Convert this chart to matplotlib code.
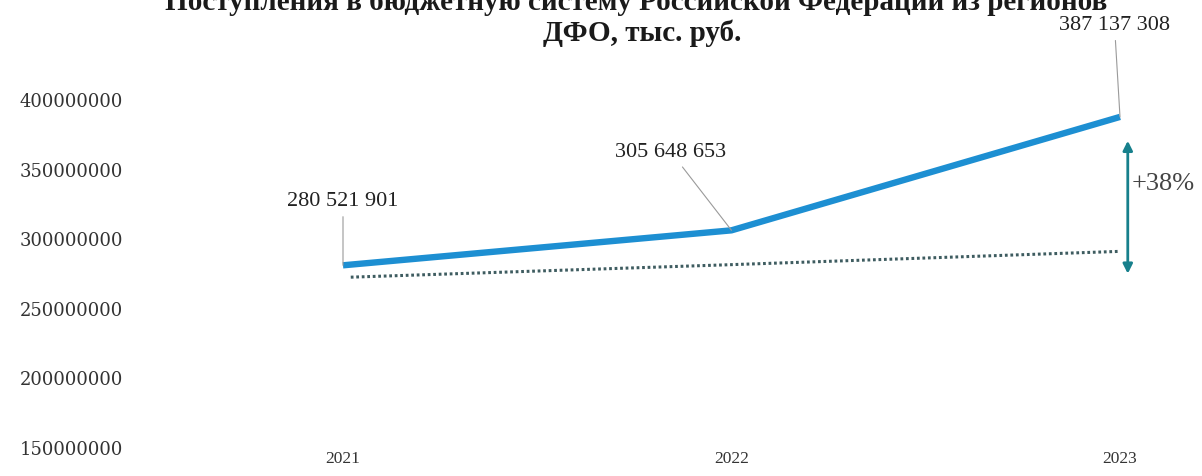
import matplotlib
matplotlib.use("Agg")
import matplotlib.pyplot as plt

years = [2021, 2022, 2023]
receipts = [280521901, 305648653, 387137308]
receipt_labels = ["280 521 901", "305 648 653", "387 137 308"]
baseline = [272000000, 281000000, 290500000]
y_ticks = [150000000, 200000000, 250000000, 300000000, 350000000, 400000000]
growth_label = "+38%"
title_line1 = "Поступления в бюджетную систему Российской Федерации из регионов"
title_line2 = "ДФО, тыс. руб."

W, H = 1202, 477
fig = plt.figure(figsize=(W / 100, H / 100), dpi=100)

# axes placement in pixels
px_left, px_right = 140, 1170
px_top, px_bottom = 100, 448
ax = fig.add_axes([px_left / W, 1 - px_bottom / H,
                   (px_right - px_left) / W, (px_bottom - px_top) / H])

# x scale: 2021 -> 343 px, 2023 -> 1120 px
ppy = (1120 - 343) / 2.0
ax.set_xlim(2021 - (343 - px_left) / ppy, 2023 + (px_right - 1120) / ppy)
ax.set_ylim(y_ticks[0], y_ticks[-1])

ax.plot(years, receipts, color="#1d8fd2", lw=4.6, solid_capstyle="butt",
        clip_on=False, zorder=3)
ax.plot([years[0] + 0.02, years[1], years[2] - 0.005], baseline,
        color="#3e5c60", lw=2.2, linestyle=(0, (0.9, 0.9)), clip_on=False,
        zorder=2)

offsets = [(0, 40), (-44, 50), (-4, 60)]
for x, v, lab, off in zip(years, receipts, receipt_labels, offsets):
    ax.annotate(lab, xy=(x, v), xytext=off, textcoords="offset points",
                ha="center", va="bottom", fontsize=16,
                family="Liberation Serif", color="#222222",
                arrowprops=dict(arrowstyle="-", color="#9a9a9a", lw=0.8,
                                shrinkA=3, shrinkB=0),
                annotation_clip=False)

# growth arrow
ax.annotate("", xy=(2023.02, 372000000), xytext=(2023.02, 272500000),
            arrowprops=dict(arrowstyle="<|-|>", color="#17808c", lw=2.0,
                            mutation_scale=14),
            annotation_clip=False)
ax.text(2023.03, 340000000, growth_label, fontsize=19,
        family="Liberation Serif", color="#444444", ha="left", va="center",
        clip_on=False)

ax.set_yticks(y_ticks)
ax.set_yticklabels([str(t) for t in y_ticks], family="DejaVu Serif",
                   fontsize=13, color="#333333")
ax.set_xticks(years)
ax.set_xticklabels([str(y) for y in years], family="Liberation Serif",
                   fontsize=12.5, color="#333333")
ax.tick_params(axis="y", length=0, pad=12)
ax.tick_params(axis="x", length=0, pad=2)
for s in ax.spines.values():
    s.set_visible(False)

fig.text(165 / W, 1 - 10 / H, title_line1, ha="left", va="baseline",
         fontsize=21, fontweight="bold", family="Liberation Serif",
         color="#1a1a1a")
fig.text(642 / W, 1 - 33 / H, title_line2, ha="center", va="center",
         fontsize=21, fontweight="bold", family="Liberation Serif",
         color="#1a1a1a")

fig.savefig("out.png", dpi=100)
